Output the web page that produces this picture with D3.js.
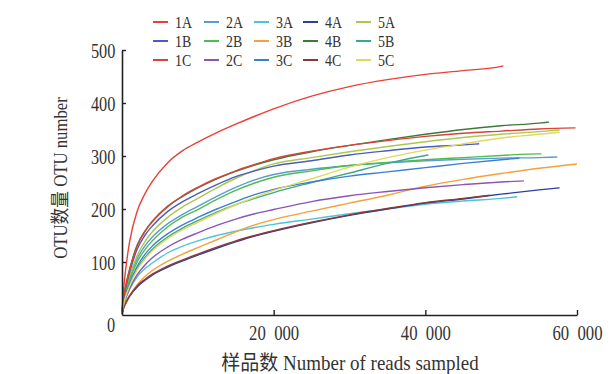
<!DOCTYPE html>
<html>
<head>
<meta charset="utf-8">
<script src="https://cdn.jsdelivr.net/npm/d3@7"></script>
<style>
  html, body { margin: 0; padding: 0; background: #fff; }
  svg { display: block; }
</style>
</head>
<body>
<svg id="chart" width="614" height="374"></svg>
<script>
// reads sampled (x grid shared by every curve)
const reads = [0, 250, 500, 1000, 2000, 3000, 4000, 6000, 8000, 10000, 12500, 15000,
  17500, 20000, 25000, 30000, 35000, 40000, 45000, 50000, 55000, 60000];

// OTU counts on the grid, cut where each sample runs out of reads
const otu1A = [8, 55, 88, 138, 196, 228, 252, 287, 310, 326, 344, 360, 375, 389, 413, 431, 444, 454, 461, 469];
const otu2A = [4, 27, 44, 70, 106, 130, 147, 172, 190, 205, 224, 241, 255, 265, 275, 282, 287, 291, 294, 296, 297];
const otu3A = [2, 20, 31, 48, 72, 87, 98, 117, 130, 140, 150, 158, 165, 171, 181, 191, 200, 209, 215, 220];
const otu4A = [2, 14, 22, 35, 53, 65, 75, 90, 102, 113, 126, 138, 149, 158, 174, 188, 200, 211, 219, 228, 236];
const otu5A = [4, 28, 45, 72, 112, 138, 157, 184, 204, 220, 240, 258, 273, 285, 297, 308, 318, 327, 335, 341, 346];
const otu1B = [4, 30, 50, 80, 124, 150, 168, 195, 214, 229, 246, 261, 272, 281, 291, 302, 310, 317, 321];
const otu2B = [4, 26, 42, 66, 100, 123, 140, 166, 185, 199, 218, 235, 249, 260, 272, 282, 288, 293, 297, 301, 304];
const otu3B = [2, 15, 23, 37, 57, 72, 84, 101, 115, 127, 142, 157, 170, 180, 196, 211, 226, 243, 256, 267, 277];
const otu4B = [5, 36, 56, 86, 132, 158, 177, 205, 224, 240, 257, 271, 283, 293, 308, 320, 331, 341, 350, 357, 362];
const otu5B = [3, 22, 36, 57, 88, 108, 124, 147, 164, 178, 194, 208, 220, 231, 250, 268, 286, 301];
const otu1C = [5, 35, 55, 85, 130, 157, 176, 204, 225, 241, 258, 272, 284, 295, 309, 320, 329, 337, 343, 347, 351];
const otu2C = [3, 20, 32, 50, 76, 94, 108, 128, 143, 155, 169, 181, 191, 199, 214, 225, 233, 240, 246, 251];
const otu3C = [3, 24, 38, 60, 92, 114, 130, 153, 170, 184, 200, 214, 227, 237, 251, 262, 270, 278, 286, 293];
const otu4C = [2, 15, 23, 36, 55, 67, 77, 92, 104, 115, 128, 140, 150, 159, 175, 189, 201, 212, 220];
const otu5C = [3, 22, 35, 55, 85, 105, 121, 144, 161, 175, 192, 208, 222, 235, 257, 279, 297, 311, 323, 334, 341];

// last point of every curve: [reads, OTU]
const lastPoint = {
  "1A": [50300, 470], "2A": [57400, 298], "3A": [52100, 223], "4A": [57700, 240], "5A": [57700, 349],
  "1B": [47100, 323], "2B": [55300, 304], "3B": [60000, 285], "4B": [56300, 364], "5B": [40400, 302],
  "1C": [59800, 353], "2C": [53000, 253], "3C": [52400, 296], "4C": [48500, 226], "5C": [57700, 345]
};

const sampleNames = ["1A", "2A", "3A", "4A", "5A", "1B", "2B", "3B", "4B", "5B", "1C", "2C", "3C", "4C", "5C"];
const sampleOtus = [otu1A, otu2A, otu3A, otu4A, otu5A, otu1B, otu2B, otu3B, otu4B, otu5B, otu1C, otu2C, otu3C, otu4C, otu5C];
const sampleColors = ["#e8413a", "#5b9bd5", "#4fc3d3", "#2d3f9c", "#a9c94c",
  "#4a5dbf", "#4dbd4d", "#f4a13c", "#3d7a3a", "#3aa98b",
  "#d8433b", "#8a55b6", "#3b80cf", "#8a3a36", "#e2d85c"];

const yTicks = [100, 200, 300, 400, 500];
const xTicks = [20000, 40000, 60000];
const xTickLabels = ["20\u2002000", "40\u2002000", "60\u2002000"];

const serif = "'Liberation Serif', 'Noto Sans CJK SC', serif";

const svg = d3.select("#chart");

const x = d3.scaleLinear().domain([0, 60000]).range([122, 577]);
const y = d3.scaleLinear().domain([0, 500]).range([315, 50]);

// curves
const line = d3.line()
  .x(d => x(d[0]))
  .y(d => y(d[1]))
  .curve(d3.curveMonotoneX);

const curves = svg.append("g");
sampleNames.forEach((name, k) => {
  const pts = sampleOtus[k].map((v, i) => [reads[i], v]).concat([lastPoint[name]]);
  curves.append("path")
    .datum(pts)
    .attr("fill", "none")
    .attr("stroke", sampleColors[k])
    .attr("stroke-width", 1.4)
    .attr("d", line);
});

// axes
const yAxis = svg.append("g")
  .attr("transform", "translate(122,0)")
  .call(d3.axisLeft(y).tickValues(yTicks).tickSizeInner(-4).tickSizeOuter(0).tickPadding(9));
const xAxis = svg.append("g")
  .attr("transform", "translate(0,315)")
  .call(d3.axisBottom(x).tickValues(xTicks).tickSizeInner(-5).tickSizeOuter(0).tickPadding(9)
    .tickFormat((d, i) => xTickLabels[i]));

[yAxis, xAxis].forEach(ax => {
  ax.select(".domain").attr("stroke", "#222").attr("stroke-width", 1.6);
  ax.selectAll(".tick line").attr("stroke", "#222").attr("stroke-width", 1.4);
  ax.selectAll(".tick text")
    .attr("fill", "#333")
    .style("font-family", serif)
    .style("font-size", "22px");
});
yAxis.selectAll(".tick text").attr("transform", "scale(0.74,1)");
xAxis.selectAll(".tick text").attr("transform", "scale(0.76,1)");

// squeezed text helper
function squeezed(parent, str, tx, ty, size, sx, anchor, rotate) {
  const g = parent.append("g")
    .attr("transform", `translate(${tx},${ty})` + (rotate ? ` rotate(${rotate})` : "") + ` scale(${sx},1)`);
  return g.append("text")
    .attr("text-anchor", anchor)
    .attr("fill", "#333")
    .style("font-family", serif)
    .style("font-size", size + "px")
    .text(str);
}

// origin label
squeezed(svg, "0", 111, 332, 22, 0.74, "middle");

// axis titles
squeezed(svg, "样品数 Number of reads sampled", 350, 370, 20, 0.95, "middle");
squeezed(svg, "OTU数量 OTU number", 67, 178, 19, 0.88, "middle", -90);

// legend
const legend = svg.append("g");
const colX = [153, 204, 254, 303, 356];
const rowY = [22, 41, 60];
sampleNames.forEach((name, k) => {
  const c = k % 5, r = Math.floor(k / 5);
  legend.append("line")
    .attr("x1", colX[c]).attr("x2", colX[c] + 15)
    .attr("y1", rowY[r]).attr("y2", rowY[r])
    .attr("stroke", sampleColors[k])
    .attr("stroke-width", 2);
  squeezed(legend, name, colX[c] + 22, rowY[r] + 6, 17, 0.82, "start");
});
</script>
</body>
</html>
